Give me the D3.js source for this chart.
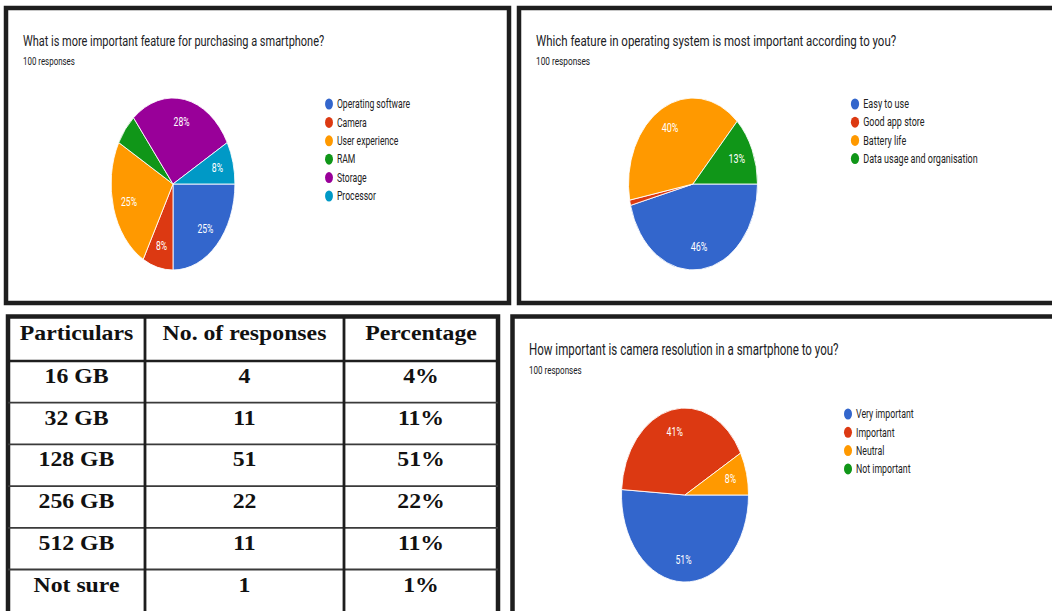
<!DOCTYPE html>
<html>
<head>
<meta charset="utf-8">
<script src="https://cdn.jsdelivr.net/npm/d3@7"></script>
<style>
  html, body { margin: 0; padding: 0; background: #fff; }
  svg { display: block; }
</style>
</head>
<body>
<svg id="chart" width="1052" height="611"></svg>
<script>
// Question 1: most important purchase feature
const featureTitle = "What is more important feature for purchasing a smartphone?";
const featureLabels = ["Operating software", "Camera", "User experience", "RAM", "Storage", "Processor"];
const featureValues = [25, 8, 25, 6, 28, 8];

// Question 2: operating system feature
const osTitle = "Which feature in operating system is most important according to you?";
const osLabels = ["Easy to use", "Good app store", "Battery life", "Data usage and organisation"];
const osValues = [46, 1, 40, 13];

// Question 3: camera resolution importance
const cameraTitle = "How important is camera resolution in a smartphone to you?";
const cameraLabels = ["Very important", "Important", "Neutral", "Not important"];
const cameraValues = [51, 41, 8, 0];

// Storage preference table
const tableHeaders = ["Particulars", "No. of responses", "Percentage"];
const storageOptions = ["16 GB", "32 GB", "128 GB", "256 GB", "512 GB", "Not sure"];
const storageResponses = [4, 11, 51, 22, 11, 1];

const responseCount = 100;
const responsesText = responseCount + " responses";
const palette = ["#3366cc", "#dc3912", "#ff9900", "#109618", "#990099", "#0099c6"];

const svg = d3.select("#chart");
const FONT = "Roboto, 'Liberation Sans', Arial, sans-serif";

// ---------- panel frames ----------
const frames = [
  { x: 6, y: 8, w: 503, h: 295 },
  { x: 519, y: 8, w: 600, h: 295 },
  { x: 8, y: 316.5, w: 490, h: 400 },
  { x: 512.5, y: 316.5, w: 600, h: 400 }
];
svg.append("g").selectAll("rect").data(frames).join("rect")
  .attr("x", d => d.x).attr("y", d => d.y)
  .attr("width", d => d.w).attr("height", d => d.h)
  .attr("fill", "none").attr("stroke", "#1e1e1e").attr("stroke-width", 4.5);

// ---------- pie panel ----------
function drawPie(cfg) {
  const g = svg.append("g")
    .attr("transform", `translate(${cfg.left},0) scale(${cfg.sx},1)`);

  g.append("text")
    .attr("x", 0).attr("y", cfg.titleY)
    .attr("font-family", FONT).attr("font-size", cfg.titleSize)
    .attr("fill", "#202124")
    .text(cfg.title);

  g.append("text")
    .attr("x", 0).attr("y", cfg.titleY + 19)
    .attr("font-family", FONT).attr("font-size", 11)
    .attr("fill", "#202124")
    .text(responsesText);

  const data = cfg.labels.map((l, i) => ({ label: l, value: cfg.values[i], color: palette[i] }));
  const total = d3.sum(data, d => d.value);

  const pie = d3.pie()
    .sort(null)
    .value(d => d.value)
    .startAngle(Math.PI / 2)
    .endAngle(Math.PI / 2 + 2 * Math.PI);
  const arcs = pie(data).filter(a => a.data.value > 0);

  const r = cfg.r;
  const arc = d3.arc().innerRadius(0).outerRadius(r);
  const labelArc = d3.arc().innerRadius(r * 0.74).outerRadius(r * 0.74);

  const pg = g.append("g").attr("transform", `translate(${cfg.cx},${cfg.cy})`);
  pg.selectAll("path").data(arcs).join("path")
    .attr("d", arc)
    .attr("fill", d => d.data.color)
    .attr("stroke", "#fff").attr("stroke-width", 1);

  pg.selectAll("text").data(arcs.filter(a => a.data.value / total >= 0.07)).join("text")
    .attr("transform", d => `translate(${labelArc.centroid(d)})`)
    .attr("text-anchor", "middle").attr("dy", "0.35em")
    .attr("font-family", FONT).attr("font-size", 12)
    .attr("fill", "#fff")
    .text(d => d3.format(".0f")(d.data.value / total * 100) + "%");

  const lg = g.append("g").attr("transform", `translate(${cfg.legendX},${cfg.legendY})`);
  const item = lg.selectAll("g").data(data).join("g")
    .attr("transform", (d, i) => `translate(0,${i * cfg.legendStep})`);
  item.append("circle").attr("r", 5.5).attr("fill", d => d.color);
  item.append("text")
    .attr("x", 11).attr("dy", "0.35em")
    .attr("font-family", FONT).attr("font-size", 12)
    .attr("fill", "#222")
    .text(d => d.label);
}

const SX1 = 0.72, SX2 = 0.75, SX4 = 0.73;
drawPie({
  title: featureTitle, labels: featureLabels, values: featureValues,
  left: 23, sx: SX1, titleY: 46, titleSize: 15.25,
  cx: (173 - 23) / SX1, cy: 184, r: 86,
  legendX: (329 - 23) / SX1, legendY: 104, legendStep: 18.4
});
drawPie({
  title: osTitle, labels: osLabels, values: osValues,
  left: 536, sx: SX2, titleY: 46, titleSize: 15.3,
  cx: (693 - 536) / SX2, cy: 184, r: 86,
  legendX: (855 - 536) / SX2, legendY: 104, legendStep: 18.2
});
drawPie({
  title: cameraTitle, labels: cameraLabels, values: cameraValues,
  left: 529, sx: SX4, titleY: 355, titleSize: 15.8,
  cx: (685 - 529) / SX4, cy: 495, r: 87,
  legendX: (848 - 529) / SX4, legendY: 414, legendStep: 18.3
});

// ---------- storage table ----------
const SERIF = "'Liberation Serif', 'Times New Roman', serif";
const colEdges = [8, 145, 344, 498];
const colCenter = i => (colEdges[i] + colEdges[i + 1]) / 2;
const headerTop = 316.5, headerBottom = 361;
const rows = d3.scaleBand().domain(storageOptions).range([headerBottom, headerBottom + 6 * 41.7]);

const tg = svg.append("g");
// row separators
tg.selectAll("line.row").data(storageOptions.slice(1)).join("line")
  .attr("class", "row")
  .attr("x1", colEdges[0]).attr("x2", colEdges[3])
  .attr("y1", d => rows(d)).attr("y2", d => rows(d))
  .attr("stroke", "#3a3a3a").attr("stroke-width", 1.8);
// header rule
tg.append("line")
  .attr("x1", colEdges[0]).attr("x2", colEdges[3])
  .attr("y1", headerBottom).attr("y2", headerBottom)
  .attr("stroke", "#1e1e1e").attr("stroke-width", 2.5);
// column rules
tg.selectAll("line.col").data([colEdges[1], colEdges[2]]).join("line")
  .attr("class", "col")
  .attr("x1", d => d).attr("x2", d => d)
  .attr("y1", headerTop).attr("y2", 611)
  .attr("stroke", "#1e1e1e").attr("stroke-width", 2.8);

const cellText = (x, y, txt) => tg.append("text")
  .attr("transform", `translate(${x},${y}) scale(1.08,1)`)
  .attr("text-anchor", "middle")
  .attr("font-family", SERIF).attr("font-weight", "bold").attr("font-size", 22)
  .attr("fill", "#111")
  .text(txt);

tableHeaders.forEach((h, i) => cellText(colCenter(i), headerTop + 23.5, h));
storageOptions.forEach((opt, i) => {
  const y = rows(opt) + 22;
  const n = storageResponses[i];
  cellText(colCenter(0), y, opt);
  cellText(colCenter(1), y, n);
  cellText(colCenter(2), y, Math.round(n / responseCount * 100) + "%");
});
</script>
</body>
</html>
